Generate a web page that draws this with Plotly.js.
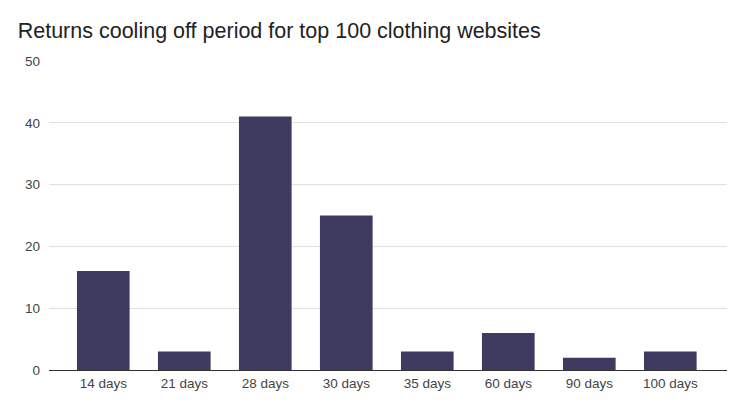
<!DOCTYPE html>
<html><head><meta charset="utf-8">
<script src="https://cdn.plot.ly/plotly-3.0.1.min.js"></script>
<style>html,body{margin:0;padding:0;background:#fff;}#chart{width:738px;height:409px;}</style>
</head><body><div id="chart"></div>
<script>
const categories = ["14 days","21 days","28 days","30 days","35 days","60 days","90 days","100 days"];
const counts = [16, 3, 41, 25, 3, 6, 2, 3];
const yTicks = [0, 10, 20, 30, 40, 50];

Plotly.newPlot('chart', [{
  type: 'bar',
  x: categories,
  y: counts,
  width: 0.65,
  marker: {color: '#3f3a60', line: {width: 0}},
  hoverinfo: 'none'
}], {
  width: 738, height: 409,
  margin: {l: 49, r: 11, t: 61, b: 39, pad: 0},
  paper_bgcolor: '#fff', plot_bgcolor: '#fff',
  font: {family: 'Arial, "Liberation Sans", sans-serif', color: '#444', size: 13},
  title: {text: 'Returns cooling off period for top 100 clothing websites',
          x: 0.024, xanchor: 'left', y: 0.925, yanchor: 'middle',
          font: {size: 21.5, color: '#222', family: 'Arial, "Liberation Sans", sans-serif'}},
  xaxis: {range: [-0.67, 7.7], showgrid: false, zeroline: false, showline: false,
          ticks: '', ticklabelstandoff: 3, tickfont: {size: 13.5, color: '#444'}, fixedrange: true},
  yaxis: {range: [0, 50], tickvals: yTicks, showgrid: true, gridcolor: '#e0e0e0', gridwidth: 1,
          zeroline: true, zerolinecolor: '#333', zerolinewidth: 1, showline: false,
          ticks: '', ticklabelstandoff: 8, tickfont: {size: 13.5, color: '#444'}, fixedrange: true},
  bargap: 0.2,
  showlegend: false
}, {displayModeBar: false, staticPlot: true});
</script></body></html>
